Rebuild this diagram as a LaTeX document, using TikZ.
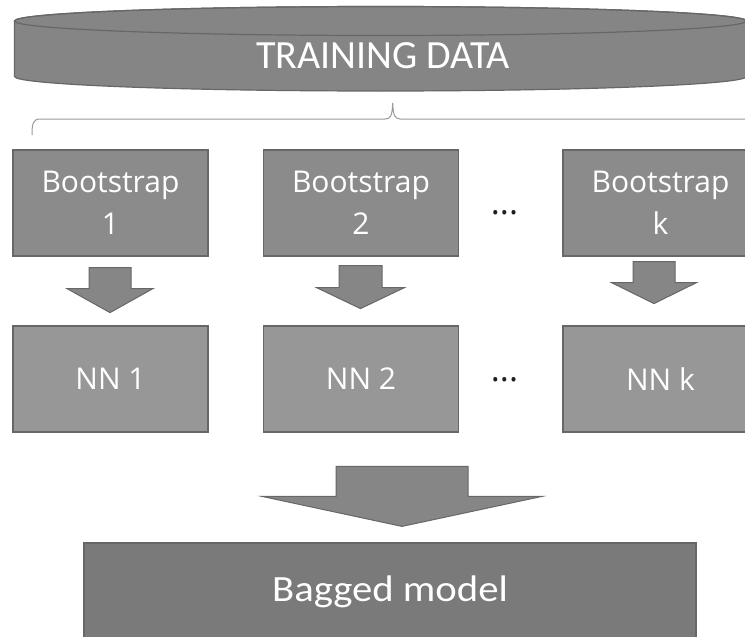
\documentclass[tikz,border=0pt]{standalone}
\usepackage{fontspec}
\usepackage{graphicx}
\setmainfont{Open Sans}
\newfontfamily\calfont{Carlito}
\usetikzlibrary{calc}

\definecolor{edgegrey}{HTML}{676767}
\definecolor{cylfill}{HTML}{858585}
\definecolor{bootfill}{HTML}{8B8B8B}
\definecolor{nnfill}{HTML}{979797}
\definecolor{arrowfill}{HTML}{868686}
\definecolor{bagfill}{HTML}{7A7A7A}
\definecolor{bracegrey}{HTML}{9A9A9A}
\definecolor{dotgrey}{HTML}{1E1E1E}

% block arrow pointing down: #1 top centre, #2 shaft half width,
% #3 head half width, #4 shaft length, #5 head length
\newcommand{\blockarrow}[5]{%
  \filldraw[blockarrowstyle] #1 ++(-#2,0) -- ++({2*#2},0) -- ++(0,#4)
    -- ++({#3-#2},0) -- ++(-#3,#5) -- ++(-#3,-#5) -- ++({#3-#2},0) -- cycle;}

\begin{document}
\begin{tikzpicture}[x=1pt,y=-1pt,
  boxbase/.style={draw=edgegrey, line width=1.2pt, inner sep=0pt,
    minimum width=195pt, minimum height=106pt, text=white, align=center},
  bootbox/.style={boxbase, fill=bootfill, font=\fontsize{30}{42}\selectfont},
  nnbox/.style={boxbase, fill=nnfill, font=\fontsize{30}{36}\selectfont},
  bagbox/.style={draw=edgegrey, line width=1.2pt, fill=bagfill, inner sep=0pt,
    minimum width=612pt, minimum height=98pt, text=white,
    font=\calfont\fontsize{37}{40}\selectfont},
  dotsnode/.style={text=dotgrey, inner sep=0pt, font=\fontsize{34}{36}\selectfont},
  blockarrowstyle/.style={draw=edgegrey, line width=1pt, fill=arrowfill, line join=miter},
  bracestyle/.style={draw=bracegrey, line width=1pt}]
\useasboundingbox (0,0) rectangle (745,637);
\begin{scope}
\clip (0,0) rectangle (745,637);

% training data cylinder
\filldraw[draw=edgegrey, line width=1.2pt, fill=cylfill]
  (14.5,21) -- (14.5,76.5)
  arc[start angle=180, end angle=0, x radius=366, y radius=14.5]
  -- (746.5,21)
  arc[start angle=0, end angle=-180, x radius=366, y radius=14.5] -- cycle;
\draw[edgegrey, line width=1.2pt] (380.5,21) ellipse [x radius=366, y radius=14.5];
\node[text=white, inner sep=0pt, font=\calfont\fontsize{40}{44}\selectfont]
  (data) at (383,56) {TRAINING DATA};

% brace spanning the samples
\draw[bracestyle] (32,135) .. controls (32,124) and (33,119) .. (40,119)
  -- (385,119) .. controls (390.5,119) and (392.2,116) .. (392.7,103)
  .. controls (393.2,116) and (395,119) .. (400.5,119) -- (760,119);

% bootstrap samples
\node[bootbox] (b1) at (110.5,203) {Bootstrap\\1};
\node[bootbox] (b2) at (361,203) {Bootstrap\\2};
\node[bootbox] (b3) at (660.5,203) {Bootstrap\\k};
\node[dotsnode] (d1) at (504.5,213) {...};

% networks
\node[nnbox] (n1) at (110.5,379) {NN 1};
\node[nnbox] (n2) at (361,379) {NN 2};
\node[nnbox] (n3) at (660.5,379) {NN k};
\node[dotsnode] (d2) at (504.5,380) {...};

% arrows from samples to networks
\blockarrow{($(b1.south)+(-0.5,11)$)}{21}{43}{21}{24}
\blockarrow{($(b2.south)+(-0.5,9)$)}{21.5}{44}{22}{21}
\blockarrow{($(b3.south)+(-6.5,5)$)}{21}{42.5}{21}{21}

% combined model
\node[bagbox] (bag) at (390,592) {\scalebox{1.1}[1]{Bagged model}};
\blockarrow{($(bag.north)+(12,-76)$)}{66}{140}{30}{30}
\end{scope}
\end{tikzpicture}
\end{document}
